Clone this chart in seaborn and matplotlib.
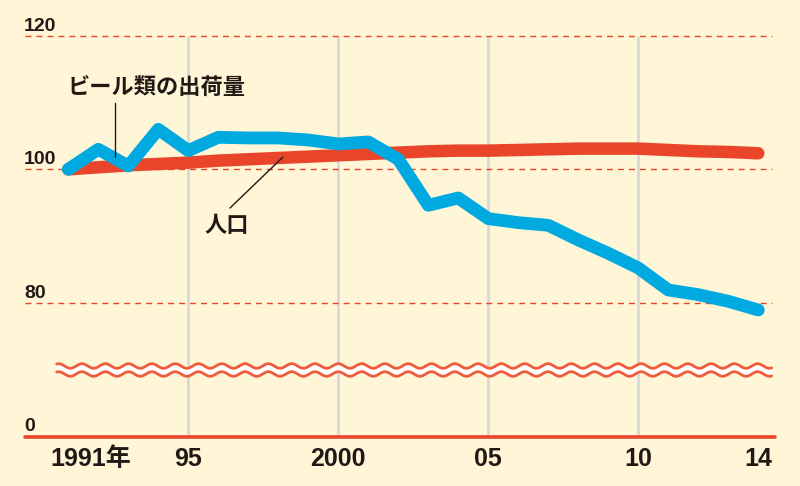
import numpy as np
import pandas as pd
import matplotlib.pyplot as plt
import seaborn as sns

# Index, 1991 = 100
years = list(range(1991, 2015))
beer = [100.0, 103.0, 100.5, 106.0, 102.8, 104.8, 104.7, 104.7, 104.4, 103.8,
        104.1, 101.5, 94.6, 95.7, 92.6, 92.0, 91.6, 89.4, 87.4, 85.2,
        81.9, 81.2, 80.2, 78.9]
population = [100.0, 100.3, 100.6, 100.8, 101.0, 101.3, 101.5, 101.7, 101.9, 102.1,
              102.3, 102.5, 102.7, 102.8, 102.8, 102.9, 103.0, 103.1, 103.1, 103.1,
              102.9, 102.7, 102.6, 102.4]
y_ticks = [80, 100, 120]
x_ticks = [1991, 1995, 2000, 2005, 2010, 2014]
x_labels = ['1991年', '95', '2000', '05', '10', '14']
grid_years = [1995, 2000, 2005, 2010]

df = pd.DataFrame({'year': years, 'beer': beer, 'population': population})

CREAM = '#FFF6D8'
BLUE = '#00A9E0'
RED = '#E8452A'
WAVE_RED = '#EF5B3B'
INK = '#231815'
GREY = '#D6D8DC'

sns.set_style('white', rc={'axes.facecolor': CREAM, 'figure.facecolor': CREAM})
plt.rcParams['font.family'] = ['Liberation Sans', 'Noto Sans CJK JP', 'DejaVu Sans']


# pixel -> data helpers (axes fill the whole figure)
def px_x(p):
    return 1991 + (p - 68.3) / 30.0


def px_y(p):
    return 100 + (169.3 - p) / 6.667


Y_ZERO = px_y(436.7)  # where the "0" baseline sits below the break

fig = plt.figure(figsize=(8, 4.86), dpi=100)
ax = fig.add_axes([0, 0, 1, 1])
ax.set_xlim(px_x(0), px_x(800))
ax.set_ylim(px_y(486), px_y(0))
for s in ax.spines.values():
    s.set_visible(False)
ax.set_xticks([])
ax.set_yticks([])

# grid
ax.vlines(grid_years, Y_ZERO, px_y(36), color=GREY, lw=2.0, zorder=1)
for v in y_ticks:
    ax.axhline(v, xmin=25 / 800, xmax=772 / 800, color=RED, lw=1.0,
               ls=(0, (4.3, 3.6)), zorder=1)
ax.axhline(Y_ZERO, xmin=25 / 800, xmax=775 / 800, color=RED, lw=2.6, zorder=2)

# axis break
wx = np.linspace(px_x(56.7), px_x(771.7), 1500)
amp = 2.3 / 6.667
per = 23.3 / 30.0
wave = amp * np.cos(2 * np.pi * (wx - 2000) / per)
up = px_y(366.0) + wave
lo = px_y(374.0) + wave
ax.fill_between(wx, lo, up, color='white', lw=0, zorder=3)
ax.plot(wx, up, color=WAVE_RED, lw=2.0, zorder=4)
ax.plot(wx, lo, color=WAVE_RED, lw=2.0, zorder=4)

# series
sns.lineplot(data=df, x='year', y='population', ax=ax, color=RED, lw=9.0,
             estimator=None, solid_capstyle='round', solid_joinstyle='round', zorder=5)
sns.lineplot(data=df, x='year', y='beer', ax=ax, color=BLUE, lw=9.2,
             estimator=None, solid_capstyle='round', solid_joinstyle='round', zorder=6)
ax.set_xlabel('')
ax.set_ylabel('')

# tick labels
for v, py in zip(y_ticks, [298, 164.5, 31.0]):
    ax.text(px_x(24), px_y(py), str(v), ha='left', va='baseline', fontsize=14,
            fontweight='bold', color=INK, zorder=7)
ax.text(px_x(24), px_y(431), '0', ha='left', va='baseline', fontsize=14,
        fontweight='bold', color=INK, zorder=7)
for yr, lab in zip(x_ticks, x_labels):
    if yr == 1991:
        ax.text(px_x(50), px_y(466), lab, ha='left', va='baseline', fontsize=18,
                fontweight='bold', color=INK)
    else:
        ax.text(yr, px_y(466), lab, ha='center', va='baseline', fontsize=18,
                fontweight='bold', color=INK)

# annotations
jp = ['Noto Sans CJK JP', 'DejaVu Sans']
ax.text(px_x(68), px_y(87), 'ビール類の出荷量', ha='left', va='center', fontsize=16,
        fontweight='bold', color=INK, family=jp, zorder=7)
ax.plot([px_x(115), px_x(115)], [px_y(103), px_y(157)], color=INK, lw=1.0, zorder=7)
ax.text(px_x(205), px_y(226), '人口', ha='left', va='center', fontsize=16,
        fontweight='bold', color=INK, family=jp, zorder=7)
ax.plot([px_x(230), px_x(283)], [px_y(208), px_y(157)], color=INK, lw=1.0, zorder=7)

fig.savefig('out.png', dpi=100, facecolor=CREAM)
